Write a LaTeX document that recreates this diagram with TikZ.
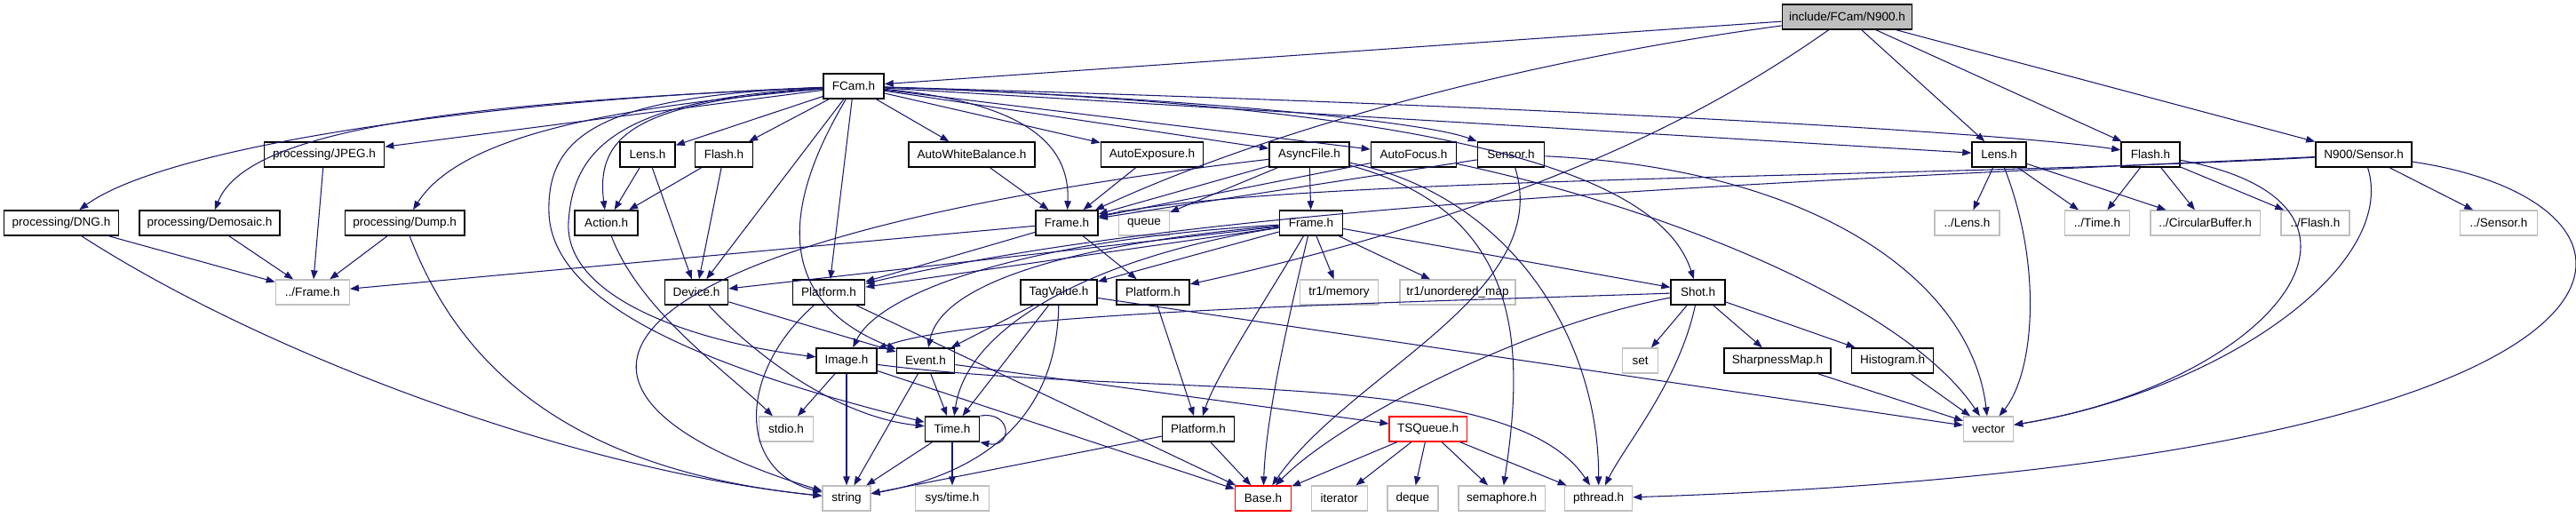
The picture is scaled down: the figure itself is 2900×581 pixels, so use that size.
\documentclass[tikz,border=0pt]{standalone}
\usepackage{fontspec}
\setmainfont{Liberation Sans}
\usetikzlibrary{arrows.meta}
\definecolor{edgeblue}{RGB}{25,25,112}
\definecolor{boxgray}{RGB}{191,191,191}
\definecolor{boxred}{RGB}{255,0,0}

\begin{document}
\begin{tikzpicture}[
  x=0.01cm, y=-0.01cm,
  file/.style={draw=black, line width=0.45pt, fill=white, minimum height=0.28cm, inner sep=0pt, font=\fontsize{3.85}{4.5}\selectfont},
  sysfile/.style={file, draw=boxgray, line width=0.35pt},
  redfile/.style={file, draw=boxred, line width=0.35pt},
  arrow/.style={-{Triangle[length=1mm, width=0.75mm]}, draw=edgeblue, line width=0.3pt}
]
\useasboundingbox (0,0) rectangle (2900,581);

\node[file, fill=boxgray, minimum width=1.46cm] (N900) at (2079.5,19) {include/FCam/N900.h};
\node[file, minimum width=0.68cm] (FCam) at (961,97) {FCam.h};

\node[file, minimum width=1.35cm] (JPEG) at (365,174) {processing/JPEG.h};
\node[file, minimum width=0.62cm] (LensA) at (729,174) {Lens.h};
\node[file, minimum width=0.65cm] (FlashA) at (815,174) {Flash.h};
\node[file, minimum width=1.42cm] (AWB) at (1094,174) {AutoWhiteBalance.h};
\node[file, minimum width=1.15cm] (AE) at (1297,174) {AutoExposure.h};
\node[file, minimum width=0.90cm] (Async) at (1474,174) {AsyncFile.h};
\node[file, minimum width=0.96cm] (AF) at (1591.5,174) {AutoFocus.h};
\node[file, minimum width=0.75cm] (Sensor) at (1701,174) {Sensor.h};
\node[file, minimum width=0.61cm] (LensB) at (2250.6,174) {Lens.h};
\node[file, minimum width=0.66cm] (FlashB) at (2421,174) {Flash.h};
\node[file, minimum width=1.08cm] (NSensor) at (2661,174) {N900/Sensor.h};

\node[file, minimum width=1.29cm] (DNG) at (69,251) {processing/DNG.h};
\node[file, minimum width=1.58cm] (Demosaic) at (236,251) {processing/Demosaic.h};
\node[file, minimum width=1.345cm] (Dump) at (455.6,251) {processing/Dump.h};
\node[file, minimum width=0.71cm] (Action) at (682.7,251) {Action.h};
\node[file, minimum width=0.70cm] (FrameA) at (1201,251) {Frame.h};
\node[sysfile, minimum width=0.57cm] (queue) at (1288,251) {queue};
\node[file, minimum width=0.71cm] (FrameB) at (1476,251) {Frame.h};
\node[sysfile, minimum width=0.73cm] (LensRel) at (2214.5,251) {../Lens.h};
\node[sysfile, minimum width=0.73cm] (TimeRel) at (2361,251) {../Time.h};
\node[sysfile, minimum width=1.23cm] (CircBuf) at (2482.6,251) {../CircularBuffer.h};
\node[sysfile, minimum width=0.77cm] (FlashRel) at (2606.4,251) {../Flash.h};
\node[sysfile, minimum width=0.87cm] (SensorRel) at (2813,251) {../Sensor.h};

\node[sysfile, minimum width=0.83cm] (FrameRel) at (351.8,329) {../Frame.h};
\node[file, minimum width=0.71cm] (Device) at (784,329) {Device.h};
\node[file, minimum width=0.81cm] (PlatA) at (933,329) {Platform.h};
\node[file, minimum width=0.86cm] (TagValue) at (1192,329) {TagValue.h};
\node[file, minimum width=0.82cm] (PlatB) at (1298,329) {Platform.h};
\node[sysfile, minimum width=0.88cm] (memory) at (1507.5,329) {tr1/memory};
\node[sysfile, minimum width=1.30cm] (umap) at (1641,329) {tr1/unordered\_map};
\node[file, minimum width=0.61cm] (Shot) at (1911.6,329) {Shot.h};

\node[file, minimum width=0.675cm] (Image) at (953,406) {Image.h};
\node[file, minimum width=0.65cm] (Event) at (1042,406) {Event.h};
\node[sysfile, minimum width=0.40cm] (set) at (1846.6,406) {set};
\node[file, minimum width=1.20cm] (Sharp) at (2001,406) {SharpnessMap.h};
\node[file, minimum width=0.92cm] (Histo) at (2130.6,406) {Histogram.h};

\node[sysfile, minimum width=0.61cm] (stdio) at (885,483) {stdio.h};
\node[file, minimum width=0.61cm] (Time) at (1072,483) {Time.h};
\node[file, minimum width=0.81cm] (PlatC) at (1349,483) {Platform.h};
\node[redfile, minimum width=0.87cm] (TSQueue) at (1607.6,483) {TSQueue.h};
\node[sysfile, minimum width=0.56cm] (vector) at (2238.6,483) {vector};

\node[sysfile, minimum width=0.54cm] (string) at (953,561) {string};
\node[sysfile, minimum width=0.83cm] (systime) at (1072,561) {sys/time.h};
\node[redfile, minimum width=0.63cm] (Base) at (1422,561) {Base.h};
\node[sysfile, minimum width=0.63cm] (iterator) at (1507.7,561) {iterator};
\node[sysfile, minimum width=0.57cm] (deque) at (1590.4,561) {deque};
\node[sysfile, minimum width=0.97cm] (semaphore) at (1690.6,561) {semaphore.h};
\node[sysfile, minimum width=0.76cm] (pthread) at (1799.6,561) {pthread.h};

\draw[arrow] (N900) -- (FCam);
\draw[arrow] (N900) .. controls (1700,70) and (1420,150) .. (FrameA);
\draw[arrow] (N900) .. controls (1950,110) and (1750,230) .. (PlatB);
\draw[arrow] (N900) -- (LensB);
\draw[arrow] (N900) -- (FlashB);
\draw[arrow] (N900) -- (NSensor);

\draw[arrow] (FCam) .. controls (500,115) and (180,170) .. (DNG);
\draw[arrow] (FCam) .. controls (550,115) and (280,140) .. (Demosaic);
\draw[arrow] (FCam) -- (JPEG);
\draw[arrow] (FCam) .. controls (700,120) and (520,150) .. (Dump);
\draw[arrow] (FCam) .. controls (720,115) and (670,150) .. (Action);
\draw[arrow] (FCam) -- (LensA);
\draw[arrow] (FCam) -- (FlashA);
\draw[arrow] (FCam) -- (Device);
\draw[arrow] (FCam) -- (PlatA);
\draw[arrow] (FCam) .. controls (900,200) and (850,330) .. (Event);
\draw[arrow] (FCam) .. controls (700,112) and (645,165) .. (640,250) .. controls (635,335) and (780,385) .. (Image);
\draw[arrow] (FCam) .. controls (680,108) and (615,150) .. (618,240) .. controls (622,350) and (820,420) .. (Time);
\draw[arrow] (FCam) -- (AWB);
\draw[arrow] (FCam) -- (AE);
\draw[arrow] (FCam) .. controls (1150,115) and (1205,160) .. (FrameA);
\draw[arrow] (FCam) -- (Async);
\draw[arrow] (FCam) -- (AF);
\draw[arrow] (FCam) .. controls (1300,108) and (1600,135) .. (Sensor);
\draw[arrow] (FCam) .. controls (1650,120) and (1870,200) .. (Shot);
\draw[arrow] (FCam) -- (LensB);
\draw[arrow] (FCam) .. controls (1700,118) and (2250,148) .. (FlashB);

\draw[arrow] (LensA) -- (Action);
\draw[arrow] (LensA) -- (Device);
\draw[arrow] (FlashA) -- (Action);
\draw[arrow] (FlashA) -- (Device);
\draw[arrow] (Action) .. controls (720,350) and (820,420) .. (stdio);

\draw[arrow] (JPEG) -- (FrameRel);
\draw[arrow] (DNG) -- (FrameRel);
\draw[arrow] (Demosaic) -- (FrameRel);
\draw[arrow] (Dump) -- (FrameRel);
\draw[arrow] (DNG) .. controls (300,400) and (650,530) .. (string);
\draw[arrow] (Dump) .. controls (520,420) and (650,530) .. (string);

\draw[arrow] (AWB) -- (FrameA);
\draw[arrow] (AE) -- (FrameA);
\draw[arrow] (Async) -- (FrameA);
\draw[arrow] (Async) -- (queue);
\draw[arrow] (Async) -- (FrameB);
\draw[arrow] (Async) .. controls (650,270) and (560,440) .. (string);
\draw[arrow] (Async) .. controls (1720,240) and (1715,400) .. (semaphore);
\draw[arrow] (Async) .. controls (1700,220) and (1800,380) .. (pthread);
\draw[arrow] (AF) -- (FrameA);
\draw[arrow] (AF) .. controls (1900,240) and (2150,350) .. (vector);
\draw[arrow] (Sensor) -- (FrameA);
\draw[arrow] (Sensor) .. controls (2050,190) and (2220,320) .. (vector);
\draw[arrow] (Sensor) .. controls (1750,330) and (1520,420) .. (Base);

\draw[arrow] (FrameA) -- (FrameRel);
\draw[arrow] (FrameA) -- (PlatA);
\draw[arrow] (FrameA) -- (PlatB);
\draw[arrow] (FrameB) -- (memory);
\draw[arrow] (FrameB) -- (umap);
\draw[arrow] (FrameB) -- (Shot);
\draw[arrow] (FrameB) -- (TagValue);
\draw[arrow] (FrameB) -- (Device);
\draw[arrow] (FrameB) -- (PlatA);
\draw[arrow] (FrameB) .. controls (1150,270) and (990,330) .. (Image);
\draw[arrow] (FrameB) .. controls (1200,275) and (1060,320) .. (Event);
\draw[arrow] (FrameB) .. controls (1250,285) and (1090,360) .. (Time);
\draw[arrow] (FrameB) .. controls (1430,330) and (1370,420) .. (PlatC);
\draw[arrow] (FrameB) .. controls (1450,360) and (1425,470) .. (Base);

\draw[arrow] (NSensor) .. controls (2200,200) and (1450,198) .. (FrameA);
\draw[arrow] (NSensor) .. controls (2000,205) and (1350,230) .. (PlatA);
\draw[arrow] (NSensor) -- (SensorRel);
\draw[arrow] (NSensor) .. controls (2700,300) and (2500,440) .. (vector);
\draw[arrow] (NSensor) .. controls (3040,230) and (3040,520) .. (pthread);
\draw[arrow] (LensB) -- (LensRel);
\draw[arrow] (LensB) -- (TimeRel);
\draw[arrow] (LensB) -- (CircBuf);
\draw[arrow] (LensB) .. controls (2300,300) and (2290,420) .. (vector);
\draw[arrow] (FlashB) -- (TimeRel);
\draw[arrow] (FlashB) -- (CircBuf);
\draw[arrow] (FlashB) -- (FlashRel);
\draw[arrow] (FlashB) .. controls (2720,230) and (2560,430) .. (vector);

\draw[arrow] (PlatA) .. controls (830,420) and (830,530) .. (string);
\draw[arrow] (PlatA) -- (Base);
\draw[arrow] (PlatB) -- (PlatC);
\draw[arrow] (PlatC) -- (Base);
\draw[arrow] (PlatC) -- (string);
\draw[arrow] (TagValue) -- (Event);
\draw[arrow] (TagValue) -- (Time);
\draw[arrow] (TagValue) .. controls (1190,460) and (1120,530) .. (string);
\draw[arrow] (TagValue) -- (vector);
\draw[arrow] (Device) -- (Event);
\draw[arrow] (Device) .. controls (860,410) and (950,470) .. (Time);

\draw[arrow] (Image) -- (stdio);
\draw[arrow] (Image) -- (string);
\draw[arrow] (Image) -- (Base);
\draw[arrow] (Image) .. controls (1300,450) and (1700,410) .. (pthread);
\draw[arrow] (Event) -- (Time);
\draw[arrow] (Event) -- (string);
\draw[arrow] (Event) -- (TSQueue);
\draw[arrow] (Time) -- (string);
\draw[arrow] (Time) -- (systime);
\draw[arrow] (Time.north east) .. controls (1140,462) and (1140,505) .. (Time.south east);

\draw[arrow] (Shot) -- (set);
\draw[arrow] (Shot) -- (Sharp);
\draw[arrow] (Shot) -- (Histo);
\draw[arrow] (Shot) .. controls (1600,340) and (1100,350) .. (Image);
\draw[arrow] (Shot) .. controls (1890,430) and (1830,500) .. (pthread);
\draw[arrow] (Shot) .. controls (1700,370) and (1500,480) .. (Base);
\draw[arrow] (Sharp) -- (vector);
\draw[arrow] (Histo) -- (vector);

\draw[arrow] (TSQueue) -- (Base);
\draw[arrow] (TSQueue) -- (iterator);
\draw[arrow] (TSQueue) -- (deque);
\draw[arrow] (TSQueue) -- (semaphore);
\draw[arrow] (TSQueue) -- (pthread);
\end{tikzpicture}
\end{document}
